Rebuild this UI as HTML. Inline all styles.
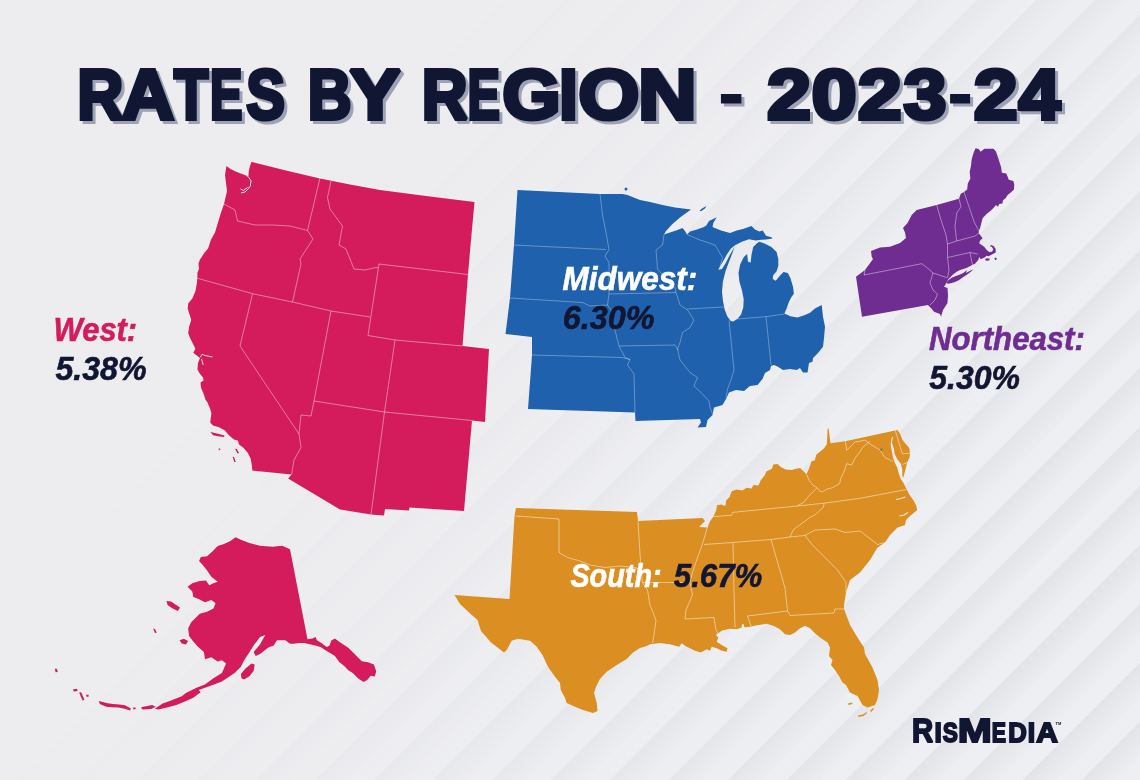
<!DOCTYPE html>
<html lang="en"><head><meta charset="utf-8"><title>Rates by Region - 2023-24</title>
<style>
html,body{margin:0;padding:0;background:#ededf0;}
body{width:1140px;height:780px;overflow:hidden;position:relative;font-family:"Liberation Sans",sans-serif;}
#bg{position:absolute;left:-25px;top:0;width:1165px;height:780px;
 background:repeating-linear-gradient(135deg,#e3e4e8 0px,#ecedf0 24px,#eeeff2 24.5px,#eeeff2 41.2px,#e3e4e8 41.7px);}
#fade{position:absolute;left:0;top:0;width:1140px;height:780px;
 background:linear-gradient(120deg,rgba(237,237,240,0.93) 0%,rgba(237,237,240,0.9) 30%,rgba(237,237,240,0.7) 45%,rgba(237,237,240,0.4) 62%,rgba(237,237,240,0) 85%);}
svg{position:absolute;left:0;top:0;}
svg text{font-family:"Liberation Sans",sans-serif;}
</style></head>
<body>
<div id="bg"></div><div id="fade"></div>
<svg width="1140" height="780" viewBox="0 0 1140 780">
<path d="M252.0,162.0 L286.0,170.5 L320.0,178.5 L350.0,184.5 L380.0,190.0 L430.0,196.5 L474.5,202.0 L471.0,240.0 L468.0,274.5 L462.5,346.0 L489.0,349.0 L485.0,422.0 L472.0,420.5 L464.0,511.0 L409.5,507.5 L409.0,510.5 L385.0,509.0 L384.0,515.5 L371.0,514.5 L340.0,509.5 L288.1,478.6 L291.6,474.6 L252.3,470.6 L251.7,464.3 L250.6,458.5 L247.7,452.7 L243.1,447.5 L239.0,444.6 L237.9,440.6 L233.9,439.4 L229.2,435.4 L224.6,430.2 L218.9,427.3 L213.1,425.6 L210.2,422.7 L210.8,418.1 L211.4,413.5 L210.2,408.9 L207.3,401.9 L205.6,400.0 L203.6,393.8 L201.0,387.7 L200.5,382.6 L203.6,380.5 L203.0,377.4 L199.5,373.3 L197.4,369.2 L198.0,363.0 L200.0,358.0 L197.4,355.9 L193.3,352.8 L195.4,348.7 L192.8,343.6 L190.3,338.5 L188.2,333.3 L189.2,326.2 L191.3,320.0 L189.7,314.9 L187.7,308.7 L188.2,303.6 L192.3,298.5 L195.4,291.3 L196.9,283.0 L197.4,277.4 L197.4,272.8 L199.0,268.7 L198.5,263.6 L200.0,259.5 L204.1,253.3 L208.2,248.2 L210.8,240.0 L215.0,232.5 L221.0,212.5 L224.0,204.0 L227.0,191.0 L225.0,175.0 L226.4,165.9 L230.5,169.0 L235.6,171.5 L240.8,173.6 L246.0,175.6 L248.3,177.2 L248.8,171.0 L250.0,166.0 L251.5,161.8Z M210.5,432.0 L214.0,432.8 L219.0,434.0 L224.5,435.5 L224.0,437.0 L218.0,436.2 L213.0,435.3Z M235.0,448.7 L236.8,448.9 L239.0,453.0 L237.5,453.5Z M232.7,456.7 L234.0,456.9 L235.7,461.8 L234.3,462.2Z M218.8,448.6 L220.2,448.6 L220.2,450.0 L218.8,450.0Z" fill="#d41c5d"/>
<path d="M224.0,204.0 L235.0,210.0 L237.5,221.0 L255.0,225.0 L272.5,225.0 L290.0,226.0 L307.5,230.5 M320.0,178.0 L307.5,230.5 L313.0,239.0 L300.0,259.0 L301.0,264.0 L292.5,302.0 M197.5,278.3 L253.0,293.8 L292.5,302.0 L331.0,311.0 L370.0,317.0 M331.0,181.0 L327.5,197.5 L330.0,209.0 L342.5,226.0 L339.0,245.0 L346.0,249.0 L354.0,269.0 L365.0,270.0 L376.0,267.5 L378.0,268.0 M379.0,264.0 L368.0,335.5 L395.0,340.0 L384.5,412.0 L371.0,514.5 M379.0,264.0 L468.0,274.5 M395.0,340.0 L462.5,346.0 M252.5,294.0 L240.0,346.0 L299.0,434.0 L301.0,447.5 L294.0,460.0 L291.6,474.6 M331.0,311.0 L314.0,401.0 L311.0,416.0 L301.0,415.0 L299.0,434.0 M314.0,401.0 L384.5,412.0 L472.0,420.5" fill="none" stroke="rgba(255,255,255,0.6)" stroke-width="0.7" stroke-linejoin="round"/>
<path d="M235.6,537.3 L240.9,539.8 L249.4,543.0 L260.0,545.7 L272.6,546.8 L282.2,545.7 L290.0,549.3 L307.5,639.3 L312.4,638.4 L315.6,637.0 L316.9,640.2 L321.4,642.9 L326.8,646.9 L329.5,645.6 L331.3,640.6 L334.9,638.4 L340.3,642.4 L348.3,647.8 L354.6,654.1 L361.8,661.3 L368.1,662.2 L373.9,664.4 L376.2,671.2 L374.8,676.6 L370.8,675.7 L367.2,680.1 L363.6,681.9 L358.2,678.4 L352.8,673.0 L348.3,670.3 L343.9,665.8 L339.4,662.2 L334.9,655.9 L330.4,653.2 L325.9,650.5 L320.5,646.9 L315.1,645.6 L309.7,644.2 L304.4,642.9 L299.0,642.9 L293.6,643.8 L290.0,643.8 L285.3,640.2 L276.9,640.2 L273.7,645.5 L268.4,647.6 L260.0,654.0 L255.7,656.1 L253.6,651.9 L260.0,644.5 L265.2,635.0 L260.0,637.1 L253.6,645.5 L248.3,654.0 L244.1,660.3 L240.9,666.7 L234.6,673.0 L228.2,677.3 L221.9,681.5 L213.4,684.7 L205.0,687.8 L198.6,689.9 L200.7,692.2 L193.3,697.7 L184.9,701.5 L176.4,704.9 L166.9,707.4 L158.4,709.5 L154.8,708.7 L162.6,703.6 L171.1,700.4 L181.7,696.2 L185.9,693.0 L196.5,687.8 L204.9,684.6 L213.4,678.2 L221.9,673.0 L226.1,663.4 L221.9,660.3 L217.7,661.4 L211.3,657.2 L205.0,659.3 L203.9,651.9 L197.6,646.6 L192.3,640.2 L189.1,636.0 L188.1,628.6 L191.2,622.3 L195.5,618.0 L199.7,613.8 L207.1,611.7 L213.4,608.5 L215.6,603.2 L211.3,600.1 L205.0,602.2 L198.6,599.0 L193.3,596.9 L192.3,591.6 L187.6,586.7 L192.3,583.2 L199.7,581.0 L206.0,580.4 L209.2,585.3 L213.4,583.2 L217.7,581.7 L211.3,576.8 L207.1,570.5 L202.9,565.2 L199.1,560.9 L200.8,557.1 L207.1,556.3 L213.4,550.4 L217.7,546.1 L224.0,544.0 L230.4,540.9Z M166.5,601.1 L171.1,601.5 L175.8,604.7 L180.0,607.5 L177.9,610.9 L172.2,608.3 L167.6,604.9Z M179.6,640.2 L183.8,638.8 L188.1,640.9 L185.9,644.5 L181.7,643.4Z M240.9,674.1 L245.2,668.8 L251.5,663.5 L254.7,664.6 L253.6,670.9 L249.4,676.2 L244.1,679.4 L241.4,678.3Z M98.8,701.1 L107.7,703.2 L113.0,704.0 L119.3,704.5 L125.0,705.3 L130.9,708.5 L130.1,710.6 L124.6,708.7 L118.2,707.6 L111.9,707.2 L106.2,706.8 L99.8,704.0Z M141.1,707.2 L152.1,704.9 L155.7,706.8 L151.0,709.1 L142.1,709.5Z M133.0,707.4 L135.6,707.4 L135.6,709.3 L133.3,709.3Z M72.8,689.4 L77.0,688.8 L77.6,690.9 L73.8,691.6Z M79.1,692.6 L81.2,692.2 L84.4,699.4 L82.7,700.7Z M54.8,668.7 L56.9,668.7 L57.8,671.9 L55.6,672.3Z M86.1,694.7 L88.6,694.7 L88.6,696.8 L86.5,696.8Z M153.1,628.5 L155.2,629.2 L156.7,632.8 L155.0,633.0Z" fill="#d41c5d"/>
<path d="M517.5,190.0 L600.0,194.0 L622.5,194.0 L627.5,195.0 L640.0,200.0 L650.0,202.0 L662.5,205.0 L675.0,207.5 L691.0,209.5 L680.0,217.5 L672.5,224.0 L666.0,231.0 L664.0,234.5 L670.0,232.5 L677.5,230.0 L682.5,228.0 L685.0,231.0 L687.0,234.5 L690.0,231.4 L697.0,229.6 L703.9,227.0 L706.5,225.3 L709.0,221.0 L716.8,217.2 L713.4,222.7 L712.5,227.0 L721.0,230.5 L730.0,233.0 L736.8,230.5 L743.7,228.8 L751.5,226.0 L755.0,229.6 L759.3,231.4 L762.7,230.5 L766.0,235.7 L772.0,237.4 L772.3,238.6 L766.2,239.4 L759.3,239.9 L755.8,240.4 L748.9,239.2 L741.9,241.8 L735.0,245.2 L730.7,248.7 L727.2,253.9 L723.8,259.9 L720.3,266.0 L718.2,269.8 L722.0,269.1 L726.0,262.5 L729.5,255.6 L733.0,249.5 L734.7,246.6 L732.4,253.0 L729.0,261.7 L725.5,271.2 L722.9,281.6 L722.0,292.0 L722.9,300.6 L724.6,309.3 L727.2,316.2 L730.7,321.1 L733.3,321.4 L737.6,318.8 L741.1,314.5 L743.3,307.6 L743.7,298.9 L741.9,290.2 L739.4,281.6 L738.5,272.9 L740.2,264.3 L743.7,257.3 L747.1,253.9 L748.0,261.7 L750.6,262.5 L751.5,254.7 L753.2,246.9 L756.7,243.5 L759.3,241.8 L764.5,243.5 L771.4,246.9 L776.6,252.1 L778.3,259.1 L778.3,266.0 L776.6,271.2 L773.1,275.5 L772.8,279.0 L775.7,280.7 L779.2,276.4 L783.5,272.1 L787.8,272.9 L790.4,278.1 L793.0,286.8 L793.9,293.7 L791.3,297.2 L788.7,302.4 L787.0,307.6 L784.4,313.6 L790.4,316.2 L797.4,317.6 L804.3,315.3 L810.0,312.7 L815.0,308.5 L821.7,305.0 L823.0,316.7 L825.0,326.7 L824.0,338.0 L823.0,346.7 L818.0,353.0 L813.0,358.0 L812.5,361.7 L809.0,363.0 L807.5,372.5 L803.0,372.5 L800.0,368.0 L796.7,370.0 L790.0,369.0 L783.0,370.0 L778.0,366.7 L774.0,365.0 L771.0,366.0 L770.0,370.0 L765.0,373.0 L762.5,379.0 L757.5,385.0 L750.0,386.0 L744.0,391.0 L736.0,390.0 L729.0,392.5 L726.0,399.0 L722.5,405.0 L714.0,407.5 L712.5,415.0 L707.5,420.0 L706.0,427.0 L697.5,427.5 L701.0,422.5 L700.0,419.0 L635.5,421.0 L635.0,412.5 L528.0,409.0 L532.0,355.0 L532.0,337.0 L505.5,334.0 L510.0,298.0 L514.0,245.0Z M699.5,210.8 L702.0,208.5 L706.5,206.0 L705.0,208.5 L701.0,211.3Z" fill="#1f61ad"/>
<circle cx="626" cy="189" r="1.5" fill="#1f61ad"/>
<path d="M514.0,245.0 L606.0,249.5 M510.0,298.0 L582.5,302.5 L590.0,306.0 L607.5,305.0 L611.0,310.0 L615.0,330.0 L619.0,346.0 L625.0,357.5 L630.0,359.5 L627.5,365.0 L634.0,374.0 L635.0,412.5 M600.0,194.0 L602.5,215.0 L606.0,232.5 L609.0,249.5 L605.0,256.0 L609.0,262.5 L609.0,294.0 L607.5,305.0 M609.0,294.0 L676.0,292.5 M532.0,355.0 L622.5,357.5 L630.0,359.5 M619.0,346.0 L675.0,345.0 L678.0,350.0 M664.0,234.5 L662.5,245.0 L656.0,250.0 L657.5,269.0 L665.0,277.5 L675.0,287.5 L676.0,292.5 L680.0,305.0 L687.5,310.0 L694.0,320.0 L690.0,327.5 L682.5,332.5 L680.0,342.5 L677.5,349.0 L680.0,360.0 L690.0,372.5 L697.5,377.5 L694.0,386.0 L702.5,394.0 L709.0,401.0 L710.0,407.5 L712.5,414.0 M687.0,309.0 L724.0,307.0 M687.0,234.5 L700.0,240.0 L715.0,245.0 L722.5,257.5 L720.0,267.0 M729.0,320.5 L734.0,370.0 L731.0,380.0 L727.5,389.0 L726.0,397.5 M737.5,319.0 L766.0,316.7 L784.4,314.0 M766.0,316.7 L771.0,365.0" fill="none" stroke="rgba(255,255,255,0.45)" stroke-width="0.7" stroke-linejoin="round"/>
<path d="M975.5,148.3 L978.7,149.0 L980.6,151.8 L984.5,148.7 L993.5,148.7 L996.0,151.5 L998.6,159.2 L1001.2,167.6 L1001.8,172.7 L1006.3,173.6 L1008.8,179.7 L1013.3,181.0 L1014.2,184.2 L1014.0,189.4 L1010.8,192.6 L1007.6,195.1 L1005.6,198.3 L1003.0,200.3 L1002.4,203.5 L999.2,204.1 L998.0,206.7 L996.0,205.0 L993.5,208.0 L990.9,210.5 L987.7,213.0 L985.1,215.6 L982.6,218.2 L981.3,223.3 L980.0,228.5 L978.7,231.0 L978.8,233.3 L981.7,237.0 L982.5,238.3 L980.0,240.8 L979.2,243.3 L981.7,245.0 L984.2,246.7 L986.7,250.0 L989.2,252.0 L992.0,251.7 L993.3,249.6 L992.0,247.0 L990.0,246.2 L990.8,245.0 L993.6,246.0 L995.7,249.0 L995.7,252.5 L992.0,254.6 L988.5,256.2 L986.2,255.8 L985.4,257.0 L982.9,258.3 L980.8,259.2 L979.2,257.0 L978.3,260.0 L976.7,261.7 L975.0,263.8 L973.3,264.6 L970.8,265.8 L967.5,267.5 L964.2,268.8 L960.0,270.0 L956.7,271.7 L953.3,274.2 L950.8,276.7 L948.3,279.2 L947.0,281.7 L945.5,284.5 L944.0,286.7 L947.5,288.0 L948.0,295.0 L947.5,303.0 L943.0,310.0 L941.0,316.7 L940.0,314.0 L934.0,311.7 L931.0,308.0 L928.0,305.0 L862.0,316.7 L856.0,276.7 L865.0,270.0 L873.0,259.0 L871.7,256.7 L871.0,251.0 L880.0,247.5 L890.0,246.7 L900.0,243.0 L906.0,238.0 L905.0,232.5 L903.0,228.0 L907.5,223.0 L911.7,215.0 L916.7,210.0 L936.7,205.0 L959.0,198.7 L960.8,193.8 L964.0,192.0 L967.2,189.4 L967.8,183.6 L970.4,178.5 L969.7,172.0 L971.0,165.6 L971.7,159.2 L973.6,152.8Z M948.3,280.3 L951.7,277.8 L955.8,276.0 L960.0,274.4 L963.3,273.0 L965.8,271.0 L967.0,270.0 L965.8,272.9 L968.3,271.7 L971.7,270.0 L973.3,269.6 L970.8,271.7 L967.5,274.2 L963.3,277.0 L959.2,280.0 L955.0,282.0 L950.8,283.3 L947.5,283.8 L946.7,282.5Z M985.0,259.0 L987.0,258.3 L990.0,258.8 L989.0,260.5 L986.0,260.8Z M994.2,258.6 L996.0,257.5 L997.0,259.0 L995.5,260.2Z" fill="#6f2c91"/>
<path d="M964.0,192.0 L969.0,206.7 L974.2,222.0 L978.7,230.4 M959.0,198.7 L961.0,206.7 L956.7,213.0 L955.0,226.7 L956.7,241.0 M936.7,205.0 L941.0,220.0 L946.0,235.0 L947.5,244.0 L947.5,257.5 L949.0,270.0 L947.5,278.0 M947.5,244.0 L956.7,241.0 L975.0,236.0 L979.0,233.0 M947.5,257.5 L970.0,252.5 L977.5,254.0 M970.0,252.5 L972.5,265.0 M865.0,270.0 L864.0,275.0 L921.7,263.7 L927.5,268.0 L933.0,273.0 L946.7,277.5 M933.0,273.0 L930.0,283.0 L933.0,290.0 L937.5,294.0 L935.0,300.0 L930.0,305.0" fill="none" stroke="rgba(255,255,255,0.6)" stroke-width="0.7" stroke-linejoin="round"/>
<path d="M516.0,508.0 L637.0,512.0 L638.0,521.0 L702.5,518.0 L705.0,521.0 L699.0,527.0 L707.5,527.5 L709.9,521.5 L713.4,516.6 L716.2,510.3 L717.0,505.3 L721.2,504.6 L725.4,506.0 L726.1,500.4 L729.6,496.9 L731.7,491.2 L736.7,489.4 L742.3,490.5 L746.5,487.7 L751.5,488.4 L753.6,484.9 L758.5,485.6 L760.6,480.6 L764.9,475.0 L766.3,471.5 L771.9,468.7 L773.3,464.4 L777.6,464.0 L781.1,467.2 L786.0,469.4 L791.7,470.0 L795.9,468.7 L800.1,468.0 L803.7,471.5 L806.5,474.3 L809.3,468.0 L811.4,461.6 L814.9,460.2 L816.4,454.6 L819.9,451.7 L824.1,448.2 L826.9,444.0 L827.6,428.5 L828.6,428.5 L830.5,443.3 L845.3,441.2 L897.4,430.0 L900.2,434.0 L902.3,439.7 L906.5,444.7 L909.4,448.2 L910.0,453.8 L909.4,458.0 L907.2,462.3 L905.8,468.0 L904.4,473.6 L903.2,477.8 L902.3,476.4 L902.3,469.4 L900.9,463.7 L897.4,459.5 L894.6,453.8 L893.8,448.2 L891.9,442.6 L893.1,436.2 L891.6,438.3 L890.5,444.0 L891.8,451.0 L892.8,456.7 L894.6,462.3 L897.4,468.0 L898.8,473.6 L900.9,479.2 L903.0,482.0 L905.1,486.3 L906.5,489.0 L909.4,494.8 L913.6,500.4 L916.4,506.0 L917.1,510.3 L913.6,513.0 L910.0,516.0 L906.0,520.0 L905.0,525.0 L897.5,527.5 L890.0,535.0 L885.0,542.5 L877.5,547.5 L870.0,560.0 L860.0,572.5 L850.0,580.0 L846.0,592.5 L844.0,605.0 L844.0,609.0 L850.0,625.0 L857.5,637.5 L864.0,647.5 L865.0,654.0 L872.5,667.5 L877.5,680.0 L879.0,690.0 L877.5,699.0 L875.0,705.0 L867.5,707.5 L862.5,705.0 L857.5,696.0 L850.0,692.5 L846.0,685.0 L842.5,682.5 L839.0,676.0 L835.0,670.0 L831.0,665.0 L832.5,660.0 L829.0,656.0 L830.0,647.5 L827.5,642.5 L820.0,637.5 L815.0,633.3 L810.0,628.3 L805.0,625.8 L800.0,628.3 L795.0,632.5 L790.0,635.0 L785.0,634.2 L780.0,629.2 L773.3,625.8 L766.7,623.8 L756.7,625.3 L750.0,626.7 L744.5,627.3 L743.6,624.3 L742.0,624.3 L741.5,627.8 L736.7,629.2 L730.0,628.7 L721.7,630.8 L715.8,635.0 L718.3,637.5 L716.7,641.7 L721.7,645.0 L727.5,648.3 L726.7,651.7 L721.7,650.8 L716.7,648.3 L711.7,646.7 L710.0,650.8 L706.7,649.2 L700.8,652.5 L695.0,650.8 L690.0,648.3 L685.0,645.8 L681.7,643.3 L679.2,646.7 L670.0,644.2 L660.0,643.0 L650.0,644.2 L646.7,646.0 L640.0,648.0 L633.0,652.5 L626.7,659.0 L616.7,665.0 L606.7,671.7 L600.0,679.0 L596.0,686.7 L594.0,693.0 L596.7,703.0 L597.5,711.0 L593.0,713.0 L583.0,710.0 L575.0,706.7 L566.7,703.0 L565.0,698.0 L560.8,690.0 L560.0,683.0 L555.0,676.7 L548.0,666.7 L542.5,655.0 L536.7,646.7 L530.0,640.8 L518.0,638.7 L511.7,640.8 L506.7,650.0 L504.0,652.5 L491.0,642.5 L481.0,631.0 L477.5,620.0 L469.0,612.5 L460.0,604.0 L454.5,595.0 L509.5,599.0 L514.5,516.0Z " fill="#db8e22"/>
<path d="M848,703.5 L852,702.5 L852.5,704 L848.5,705Z M858,715.5 L863,714.5 L866.5,712 L867,713 L863.5,716 L858.5,717Z M870,711 L873,708 L874,709 L871,712Z" fill="#db8e22"/>
<path d="M515.5,516.0 L559.0,519.0 L559.0,552.5 L567.5,557.5 L580.0,561.0 L590.0,565.0 L605.0,567.5 L620.0,566.0 L635.0,567.5 L641.0,570.0 M638.0,521.0 L641.0,570.0 L642.5,582.5 L647.5,590.0 L650.0,605.0 L656.0,620.0 L654.0,635.0 L652.5,643.0 M642.5,582.5 L690.0,582.5 M707.5,527.0 L702.5,544.0 L697.5,557.5 L692.5,572.5 L690.0,582.5 L692.5,595.0 L686.0,610.0 L685.0,619.0 L714.0,617.5 L716.0,630.0 L719.0,635.0 M704.0,544.5 L732.5,542.5 L771.0,539.5 L790.0,537.0 M733.0,543.0 L734.0,590.0 L735.0,627.5 M771.0,539.5 L785.0,588.0 L787.5,611.0 L790.0,615.5 L834.0,613.0 L835.0,609.0 L844.0,609.0 M747.5,616.0 L787.5,611.0 M747.5,616.0 L751.0,626.0 M713.4,516.6 L731.7,515.2 L732.4,512.4 L797.3,506.0 L824.1,503.2 L860.0,498.3 L906.5,489.5 M797.3,506.0 L804.4,501.8 L808.6,496.2 L812.8,491.9 L817.1,487.7 L812.8,484.9 L809.3,480.6 L806.5,474.3 M817.1,487.7 L819.9,491.2 L822.7,491.9 L826.9,489.1 L832.6,487.7 L839.6,483.5 L841.0,477.8 L843.9,472.2 L846.7,463.7 L851.6,465.1 L855.1,458.1 L860.0,451.7 L862.5,447.5 L870.0,441.0 M845.3,441.2 L846.7,450.3 L852.3,444.7 L855.1,441.9 L860.0,441.2 L865.0,440.0 L870.0,444.0 L880.0,450.0 L885.0,457.5 L893.0,461.5 M790.0,537.0 L793.1,530.0 L798.7,525.8 L804.4,521.5 L810.0,517.3 L815.7,514.5 L819.9,510.3 L823.4,507.4 L824.1,503.2 M895.3,430.6 L902.3,453.8 L910.0,453.1 M902.3,464.4 L908.0,462.3 M790.0,537.0 L805.0,535.5 L815.0,530.0 L835.0,529.0 L845.0,532.5 L860.0,531.0 L877.5,544.5 L885.0,542.5 M805.0,535.5 L812.5,545.0 L825.0,557.5 L837.5,570.0 L846.0,582.5 L846.0,592.0" fill="none" stroke="rgba(255,255,255,0.6)" stroke-width="0.8" stroke-linejoin="round"/>
<path d="M896,499.5 L901,498.5 L905.5,497 M899.5,516 L904,515 L908,512.5" fill="none" stroke="#efe6da" stroke-width="1.1"/>
<circle cx="881.3" cy="449.6" r="1.1" fill="#2b7f8f"/>
<path d="M248.5,177 L251,180.8 L250.3,186 L248,189 L245,192 L241,193 M247.5,187.5 L243.5,190.5 L240.5,189" fill="none" stroke="#f0e6ec" stroke-width="1"/>
<path d="M200.3,357.2 L202,354.3 L205,355.5 L212.5,357 M201.5,358.8 L203.2,365" fill="none" stroke="#f0e6ec" stroke-width="0.9"/>
<text transform="translate(3,3)" font-weight="bold" stroke-linejoin="miter" stroke-miterlimit="2" xml:space="preserve" aria-hidden="true"><tspan x="77.20" y="118.80" textLength="46.08" lengthAdjust="spacingAndGlyphs" font-size="69.8" fill="#9da2b7" stroke="#9da2b7" stroke-width="4.0">R</tspan><tspan x="121.64" y="118.80" textLength="52.67" lengthAdjust="spacingAndGlyphs" font-size="69.8" fill="#9da2b7" stroke="#9da2b7" stroke-width="4.0">A</tspan><tspan x="173.94" y="118.80" textLength="34.21" lengthAdjust="spacingAndGlyphs" font-size="69.8" fill="#9da2b7" stroke="#9da2b7" stroke-width="4.0">T</tspan><tspan x="209.96" y="118.80" textLength="32.39" lengthAdjust="spacingAndGlyphs" font-size="69.8" fill="#9da2b7" stroke="#9da2b7" stroke-width="4.0">E</tspan><tspan x="246.32" y="118.80" textLength="38.74" lengthAdjust="spacingAndGlyphs" font-size="69.8" fill="#9da2b7" stroke="#9da2b7" stroke-width="4.0">S</tspan><tspan> </tspan><tspan x="307.76" y="118.80" textLength="43.83" lengthAdjust="spacingAndGlyphs" font-size="69.8" fill="#9da2b7" stroke="#9da2b7" stroke-width="4.0">B</tspan><tspan x="349.41" y="118.80" textLength="51.10" lengthAdjust="spacingAndGlyphs" font-size="69.8" fill="#9da2b7" stroke="#9da2b7" stroke-width="4.0">Y</tspan><tspan> </tspan><tspan x="421.72" y="118.80" textLength="45.81" lengthAdjust="spacingAndGlyphs" font-size="69.8" fill="#9da2b7" stroke="#9da2b7" stroke-width="4.0">R</tspan><tspan x="467.44" y="118.80" textLength="32.40" lengthAdjust="spacingAndGlyphs" font-size="69.8" fill="#9da2b7" stroke="#9da2b7" stroke-width="4.0">E</tspan><tspan x="502.30" y="118.80" textLength="58.45" lengthAdjust="spacingAndGlyphs" font-size="69.8" fill="#9da2b7" stroke="#9da2b7" stroke-width="4.0">G</tspan><tspan x="559.02" y="118.80" textLength="18.80" lengthAdjust="spacingAndGlyphs" font-size="69.8" fill="#9da2b7" stroke="#9da2b7" stroke-width="4.0">I</tspan><tspan x="578.26" y="118.80" textLength="61.21" lengthAdjust="spacingAndGlyphs" font-size="69.8" fill="#9da2b7" stroke="#9da2b7" stroke-width="4.0">O</tspan><tspan x="638.13" y="118.80" textLength="58.70" lengthAdjust="spacingAndGlyphs" font-size="69.8" fill="#9da2b7" stroke="#9da2b7" stroke-width="4.0">N</tspan><tspan> </tspan><tspan x="718.43" y="116.66" textLength="25.45" lengthAdjust="spacingAndGlyphs" font-size="69.8" fill="#9da2b7" stroke="#9da2b7" stroke-width="1">-</tspan><tspan> </tspan><tspan x="767.01" y="118.80" textLength="43.90" lengthAdjust="spacingAndGlyphs" font-size="69.8" fill="#9da2b7" stroke="#9da2b7" stroke-width="4.0">2</tspan><tspan x="811.51" y="118.80" textLength="45.23" lengthAdjust="spacingAndGlyphs" font-size="69.8" fill="#9da2b7" stroke="#9da2b7" stroke-width="4.0">0</tspan><tspan x="857.74" y="118.80" textLength="43.93" lengthAdjust="spacingAndGlyphs" font-size="69.8" fill="#9da2b7" stroke="#9da2b7" stroke-width="4.0">2</tspan><tspan x="903.57" y="118.80" textLength="42.95" lengthAdjust="spacingAndGlyphs" font-size="69.8" fill="#9da2b7" stroke="#9da2b7" stroke-width="4.0">3</tspan><tspan x="947.68" y="116.66" textLength="24.79" lengthAdjust="spacingAndGlyphs" font-size="69.8" fill="#9da2b7" stroke="#9da2b7" stroke-width="1">-</tspan><tspan x="973.82" y="118.80" textLength="43.92" lengthAdjust="spacingAndGlyphs" font-size="69.8" fill="#9da2b7" stroke="#9da2b7" stroke-width="4.0">2</tspan><tspan x="1018.50" y="118.80" textLength="41.77" lengthAdjust="spacingAndGlyphs" font-size="69.8" fill="#9da2b7" stroke="#9da2b7" stroke-width="4.0">4</tspan></text>
<text transform="translate(0,0)" font-weight="bold" stroke-linejoin="miter" stroke-miterlimit="2" xml:space="preserve"><tspan x="77.20" y="118.80" textLength="46.08" lengthAdjust="spacingAndGlyphs" font-size="69.8" fill="#111633" stroke="#111633" stroke-width="4.0">R</tspan><tspan x="121.64" y="118.80" textLength="52.67" lengthAdjust="spacingAndGlyphs" font-size="69.8" fill="#111633" stroke="#111633" stroke-width="4.0">A</tspan><tspan x="173.94" y="118.80" textLength="34.21" lengthAdjust="spacingAndGlyphs" font-size="69.8" fill="#111633" stroke="#111633" stroke-width="4.0">T</tspan><tspan x="209.96" y="118.80" textLength="32.39" lengthAdjust="spacingAndGlyphs" font-size="69.8" fill="#111633" stroke="#111633" stroke-width="4.0">E</tspan><tspan x="246.32" y="118.80" textLength="38.74" lengthAdjust="spacingAndGlyphs" font-size="69.8" fill="#111633" stroke="#111633" stroke-width="4.0">S</tspan><tspan> </tspan><tspan x="307.76" y="118.80" textLength="43.83" lengthAdjust="spacingAndGlyphs" font-size="69.8" fill="#111633" stroke="#111633" stroke-width="4.0">B</tspan><tspan x="349.41" y="118.80" textLength="51.10" lengthAdjust="spacingAndGlyphs" font-size="69.8" fill="#111633" stroke="#111633" stroke-width="4.0">Y</tspan><tspan> </tspan><tspan x="421.72" y="118.80" textLength="45.81" lengthAdjust="spacingAndGlyphs" font-size="69.8" fill="#111633" stroke="#111633" stroke-width="4.0">R</tspan><tspan x="467.44" y="118.80" textLength="32.40" lengthAdjust="spacingAndGlyphs" font-size="69.8" fill="#111633" stroke="#111633" stroke-width="4.0">E</tspan><tspan x="502.30" y="118.80" textLength="58.45" lengthAdjust="spacingAndGlyphs" font-size="69.8" fill="#111633" stroke="#111633" stroke-width="4.0">G</tspan><tspan x="559.02" y="118.80" textLength="18.80" lengthAdjust="spacingAndGlyphs" font-size="69.8" fill="#111633" stroke="#111633" stroke-width="4.0">I</tspan><tspan x="578.26" y="118.80" textLength="61.21" lengthAdjust="spacingAndGlyphs" font-size="69.8" fill="#111633" stroke="#111633" stroke-width="4.0">O</tspan><tspan x="638.13" y="118.80" textLength="58.70" lengthAdjust="spacingAndGlyphs" font-size="69.8" fill="#111633" stroke="#111633" stroke-width="4.0">N</tspan><tspan> </tspan><tspan x="718.43" y="116.66" textLength="25.45" lengthAdjust="spacingAndGlyphs" font-size="69.8" fill="#111633" stroke="#111633" stroke-width="1">-</tspan><tspan> </tspan><tspan x="767.01" y="118.80" textLength="43.90" lengthAdjust="spacingAndGlyphs" font-size="69.8" fill="#111633" stroke="#111633" stroke-width="4.0">2</tspan><tspan x="811.51" y="118.80" textLength="45.23" lengthAdjust="spacingAndGlyphs" font-size="69.8" fill="#111633" stroke="#111633" stroke-width="4.0">0</tspan><tspan x="857.74" y="118.80" textLength="43.93" lengthAdjust="spacingAndGlyphs" font-size="69.8" fill="#111633" stroke="#111633" stroke-width="4.0">2</tspan><tspan x="903.57" y="118.80" textLength="42.95" lengthAdjust="spacingAndGlyphs" font-size="69.8" fill="#111633" stroke="#111633" stroke-width="4.0">3</tspan><tspan x="947.68" y="116.66" textLength="24.79" lengthAdjust="spacingAndGlyphs" font-size="69.8" fill="#111633" stroke="#111633" stroke-width="1">-</tspan><tspan x="973.82" y="118.80" textLength="43.92" lengthAdjust="spacingAndGlyphs" font-size="69.8" fill="#111633" stroke="#111633" stroke-width="4.0">2</tspan><tspan x="1018.50" y="118.80" textLength="41.77" lengthAdjust="spacingAndGlyphs" font-size="69.8" fill="#111633" stroke="#111633" stroke-width="4.0">4</tspan></text>
<text id="l0" x="53.60" y="341.30" textLength="83.56" lengthAdjust="spacingAndGlyphs" font-size="33.2" fill="#d41c5d" font-weight="bold" font-style="italic" stroke="#d41c5d" stroke-width="0.6">West:</text><text id="l1" x="55.40" y="380.40" textLength="91.19" lengthAdjust="spacingAndGlyphs" font-size="33.2" fill="#111633" font-weight="bold" font-style="italic" stroke="#111633" stroke-width="0.6">5.38%</text><text id="l2" x="562.55" y="289.60" textLength="134.64" lengthAdjust="spacingAndGlyphs" font-size="33.2" fill="#ffffff" font-weight="bold" font-style="italic" stroke="#ffffff" stroke-width="0.6">Midwest:</text><text id="l3" x="562.85" y="328.60" textLength="91.73" lengthAdjust="spacingAndGlyphs" font-size="33.2" fill="#111633" font-weight="bold" font-style="italic" stroke="#111633" stroke-width="0.6">6.30%</text><text id="l4" x="929.09" y="349.60" textLength="155.79" lengthAdjust="spacingAndGlyphs" font-size="33.2" fill="#6f2c91" font-weight="bold" font-style="italic" stroke="#6f2c91" stroke-width="0.6">Northeast:</text><text id="l5" x="929.28" y="388.60" textLength="90.59" lengthAdjust="spacingAndGlyphs" font-size="33.2" fill="#111633" font-weight="bold" font-style="italic" stroke="#111633" stroke-width="0.6">5.30%</text><text id="l6" x="570.41" y="586.50" textLength="91.21" lengthAdjust="spacingAndGlyphs" font-size="33.2" fill="#ffffff" font-weight="bold" font-style="italic" stroke="#ffffff" stroke-width="0.6">South:</text><text id="l7" x="673.75" y="586.50" textLength="88.63" lengthAdjust="spacingAndGlyphs" font-size="33.2" fill="#111633" font-weight="bold" font-style="italic" stroke="#111633" stroke-width="0.6">5.67%</text>
<text font-weight="bold" stroke-linejoin="miter" stroke-miterlimit="2"><tspan x="912.11" y="741.90" textLength="21.23" lengthAdjust="spacingAndGlyphs" font-size="32.8" fill="#111633" stroke="#111633" stroke-width="1.8">R</tspan><tspan x="934.62" y="741.90" textLength="7.32" lengthAdjust="spacingAndGlyphs" font-size="27.2" fill="#111633" stroke="#111633" stroke-width="1.8">I</tspan><tspan x="942.87" y="741.90" textLength="15.13" lengthAdjust="spacingAndGlyphs" font-size="27.2" fill="#111633" stroke="#111633" stroke-width="1.8">S</tspan><tspan x="957.70" y="741.90" textLength="34.07" lengthAdjust="spacingAndGlyphs" font-size="32.8" fill="#111633" stroke="#111633" stroke-width="1.8">M</tspan><tspan x="991.70" y="741.90" textLength="14.24" lengthAdjust="spacingAndGlyphs" font-size="27.2" fill="#111633" stroke="#111633" stroke-width="1.8">E</tspan><tspan x="1008.15" y="741.90" textLength="18.52" lengthAdjust="spacingAndGlyphs" font-size="27.2" fill="#111633" stroke="#111633" stroke-width="1.8">D</tspan><tspan x="1027.83" y="741.90" textLength="7.41" lengthAdjust="spacingAndGlyphs" font-size="27.2" fill="#111633" stroke="#111633" stroke-width="1.8">I</tspan><tspan x="1036.38" y="741.90" textLength="21.62" lengthAdjust="spacingAndGlyphs" font-size="27.2" fill="#111633" stroke="#111633" stroke-width="1.8">A</tspan></text><text x="1055.5" y="724.6" font-size="4" font-weight="bold" fill="#111633">TM</text>
</svg>
</body></html>
